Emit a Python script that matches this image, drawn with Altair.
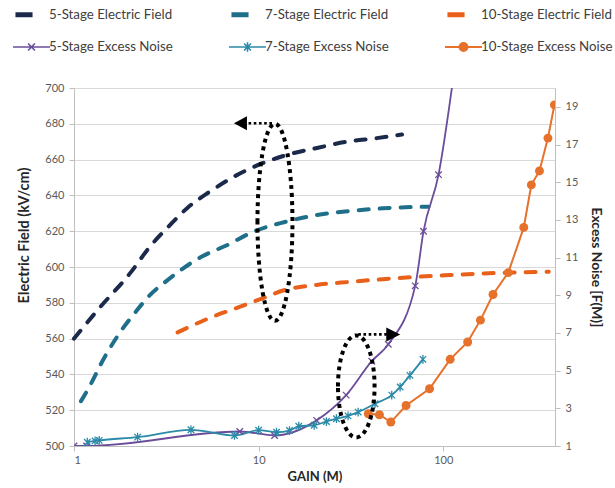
import altair as alt
import pandas as pd

# ---- electric field vs gain (left axis, kV/cm) ----
EF5_GAIN = [1.0, 1.37, 2.03, 2.56, 3.28, 4.11, 5.42, 7.22, 10.5, 14.7, 20.7, 30.0, 43.7, 59.8]
EF5_FIELD = [560, 577, 597, 611, 623, 633, 642, 650, 658, 663, 666.5, 670, 672, 674]

EF7_GAIN = [1.09, 1.18, 1.49, 1.79, 2.16, 2.56, 3.15, 3.87, 4.96, 6.68, 9.5, 13.7, 20.6, 31.3, 47.2, 83.2]
EF7_FIELD = [525, 531, 551, 564, 575, 584, 592, 599, 606, 612, 620, 625, 629, 631.3, 632.8, 633.7]

EF10_GAIN = [3.64, 5.42, 7.88, 10.5, 13.7, 20.6, 31.3, 47.2, 71.9, 109, 165, 251, 373]
EF10_FIELD = [563.5, 571.5, 577.7, 582.5, 587, 590, 591.7, 593.2, 594.5, 595.5, 596.4, 597, 597.3]

# ---- excess noise F(M) vs gain (right axis) ----
N5_GAIN = [1.0, 1.17, 7.9, 12.2, 20.6, 29.8, 41, 50.4, 70.5, 78.2, 94.3, 115]
N5_NOISE = [1.0, 1.0, 1.77, 1.56, 2.36, 3.7, 5.5, 6.4, 9.5, 12.4, 15.4, 21]

N7_GAIN = [1.18, 1.3, 1.37, 2.21, 4.3, 7.4, 10.0, 12.5, 14.7, 16.5, 20.0, 23.3, 26.4, 30.5,
           34.6, 42.7, 52.6, 58.4, 66.0, 77.6]
N7_NOISE = [1.2, 1.27, 1.3, 1.47, 1.86, 1.56, 1.84, 1.73, 1.82, 2.05, 2.1, 2.3, 2.45, 2.6,
            2.8, 3.24, 3.7, 4.13, 4.75, 5.6]

N10_GAIN = [39.3, 45.1, 52.0, 62.9, 84.3, 109, 135.6, 159, 186, 225, 273, 300, 332, 369, 400]
N10_NOISE = [2.71, 2.66, 2.27, 3.15, 4.04, 5.6, 6.52, 7.68, 9.04, 10.2, 12.6, 14.86, 15.6, 17.34, 19.1]

# ---- callout anchors (gain, field) ----
CALLOUT_GAIN = [12.26, 33.8]
CALLOUT_FIELD = [625, 533.3]

SERIES = ["5-Stage Electric Field", "7-Stage Electric Field", "10-Stage Electric Field",
          "5-Stage Excess Noise", "7-Stage Excess Noise", "10-Stage Excess Noise"]
COLORS = ["#1b2a4a", "#1f6f8b", "#e9601a", "#6b4c9a", "#2b8aa8", "#e5712a"]

FONT = "Lato"

# legend symbols (unit = 15 px): short thick dash for the field curves,
# line + marker for the noise curves
LEG_PATHS = [
    "M-1.07,0H0.07", "M-1.07,0H0.07", "M-1.07,0H0.07",
    "M-1.23,0H1.23M-0.23,-0.23L0.23,0.23M-0.23,0.23L0.23,-0.23",
    "M-1.23,0H1.23M-0.23,-0.23L0.23,0.23M-0.23,0.23L0.23,-0.23M0,-0.32V0.32",
    "M-1.23,0H1.23M0.27,0A0.27,0.27 0 1 1 -0.27,0A0.27,0.27 0 1 1 0.27,0Z",
]
LEG_WIDTHS = [5, 5, 5, 1.6, 1.6, 1.8]

# chart markers
X_MARK = "M-1,-1L1,1M-1,1L1,-1"
STAR_MARK = "M-1,-1L1,1M-1,1L1,-1M0,-1.35V1.35"


def frame(gains, vals):
    return pd.DataFrame({"gain": gains, "value": vals})


x = alt.X("gain:Q", scale=alt.Scale(type="log", domain=[1, 403], nice=False),
          axis=alt.Axis(values=[1, 10, 100], format="d", title="GAIN (M)", grid=False,
                        tickSize=5, labelPadding=3, titlePadding=5, titleFontSize=13))

y_left = alt.Y("value:Q", scale=alt.Scale(domain=[500, 700], nice=False, zero=False),
               axis=alt.Axis(values=list(range(500, 701, 20)), title="Electric Field (kV/cm)",
                             orient="left", grid=True, tickSize=5, labelPadding=5,
                             titlePadding=13, titleY=147, titleFontSize=14.5))

y_right = alt.Y("value:Q", scale=alt.Scale(domain=[1, 20], nice=False, zero=False),
                axis=alt.Axis(values=list(range(1, 20, 2)), title="Excess Noise [F(M)]",
                              orient="right", grid=False, tickSize=5, labelPadding=5,
                              titlePadding=11, titleFontSize=13.8))


def field_curve(gains, vals, color):
    return alt.Chart(frame(gains, vals)).mark_line(
        color=color, strokeDash=[10, 11], strokeWidth=4, strokeCap="round",
        interpolate="monotone",
    ).encode(x=x, y=y_left)


def noise_curve(gains, vals, color, interp, width):
    return alt.Chart(frame(gains, vals)).mark_line(
        color=color, strokeWidth=width, interpolate=interp, clip=True
    ).encode(x=x, y=y_right)


def noise_marks(gains, vals, color, **mark):
    return alt.Chart(frame(gains, vals)).mark_point(
        color=color, opacity=1, clip=True, **mark
    ).encode(x=x, y=y_right)


field_layer = alt.layer(
    field_curve(EF5_GAIN, EF5_FIELD, COLORS[0]),
    field_curve(EF7_GAIN, EF7_FIELD, COLORS[1]),
    field_curve(EF10_GAIN, EF10_FIELD, COLORS[2]),
)

noise_layer = alt.layer(
    noise_curve(N5_GAIN, N5_NOISE, COLORS[3], "monotone", 1.8),
    noise_curve(N7_GAIN, N7_NOISE, COLORS[4], "monotone", 1.8),
    noise_curve(N10_GAIN, N10_NOISE, COLORS[5], "linear", 2),
    noise_marks(N5_GAIN, N5_NOISE, COLORS[3], shape=X_MARK, size=42, filled=False, strokeWidth=1.3),
    noise_marks(N7_GAIN, N7_NOISE, COLORS[4], shape=STAR_MARK, size=42, filled=False, strokeWidth=1.3),
    noise_marks(N10_GAIN, N10_NOISE, COLORS[5], shape="circle", size=80, filled=True),
)

# dotted callouts: ellipse, dotted leader and arrowhead (paths in pixel units, size=4)
y_call = alt.Y("field:Q", scale=alt.Scale(domain=[500, 700], nice=False, zero=False), axis=None)
CALLOUTS = [
    ("M-17.5,0A17.5,98.5 0 1 1 17.5,0A17.5,98.5 0 1 1 -17.5,0",
     "M-3,-99H-30", "M-41,-99L-28,-106L-28,-92Z"),
    ("M-18.3,0A18.3,51 0 1 1 18.3,0A18.3,51 0 1 1 -18.3,0",
     "M2,-52H31", "M44,-52L30,-59L30,-45Z"),
]
call_layers = []
for i, (ell, lead, head) in enumerate(CALLOUTS):
    d = pd.DataFrame({"gain": [CALLOUT_GAIN[i]], "field": [CALLOUT_FIELD[i]]})
    base = alt.Chart(d).encode(x=x, y=y_call)
    call_layers.append(base.mark_point(shape=ell, size=4, filled=False, color="black",
                                       strokeWidth=4, strokeDash=[4, 4], opacity=1))
    call_layers.append(base.mark_point(shape=lead, size=4, filled=False, color="black",
                                       strokeWidth=2.6, strokeDash=[2.6, 2.6], opacity=1))
    call_layers.append(base.mark_point(shape=head, size=4, filled=True, color="black",
                                       opacity=1))

# legend: one key per series, the key mark itself sits outside the plot and is clipped
legend = alt.Legend(
    orient="none", legendX=-60, legendY=-91, columns=3, direction="horizontal", title=None,
    symbolSize=900, labelFont=FONT, labelFontSize=13.3, labelColor="#404040",
    labelOffset=0, columnPadding=40, rowPadding=6, gridAlign="all", symbolOpacity=1,
)
key_df = pd.DataFrame({"series": SERIES})
legend_keys = alt.Chart(key_df).mark_point(filled=False, opacity=1, clip=True).encode(
    x=alt.value(-60), y=alt.value(-60),
    stroke=alt.Stroke("series:N", scale=alt.Scale(domain=SERIES, range=COLORS), legend=legend),
    fill=alt.Fill("series:N", scale=alt.Scale(domain=SERIES, range=COLORS), legend=legend),
    shape=alt.Shape("series:N", scale=alt.Scale(domain=SERIES, range=LEG_PATHS), legend=legend),
    strokeWidth=alt.StrokeWidth("series:N", scale=alt.Scale(type="ordinal", domain=SERIES,
                                                            range=LEG_WIDTHS), legend=legend),
)

chart = alt.layer(
    field_layer,
    noise_layer,
    alt.layer(*call_layers),
    legend_keys,
).resolve_scale(y="independent").properties(
    width=481, height=358,
    autosize=alt.AutoSizeParams(type="none"),
    padding={"left": 74, "top": 88, "right": 60, "bottom": 42},
    background="white",
).configure(font=FONT).configure_view(stroke=None).configure_axis(
    labelFont=FONT, labelFontSize=11, labelColor="#595959",
    titleFont=FONT, titleFontWeight="bold", titleColor="#262626",
    domainColor="#bfbfbf", tickColor="#bfbfbf", gridColor="#d9d9d9", gridWidth=1.2,
)

chart.save("out.html", embed_options={"renderer": "svg", "actions": False})
